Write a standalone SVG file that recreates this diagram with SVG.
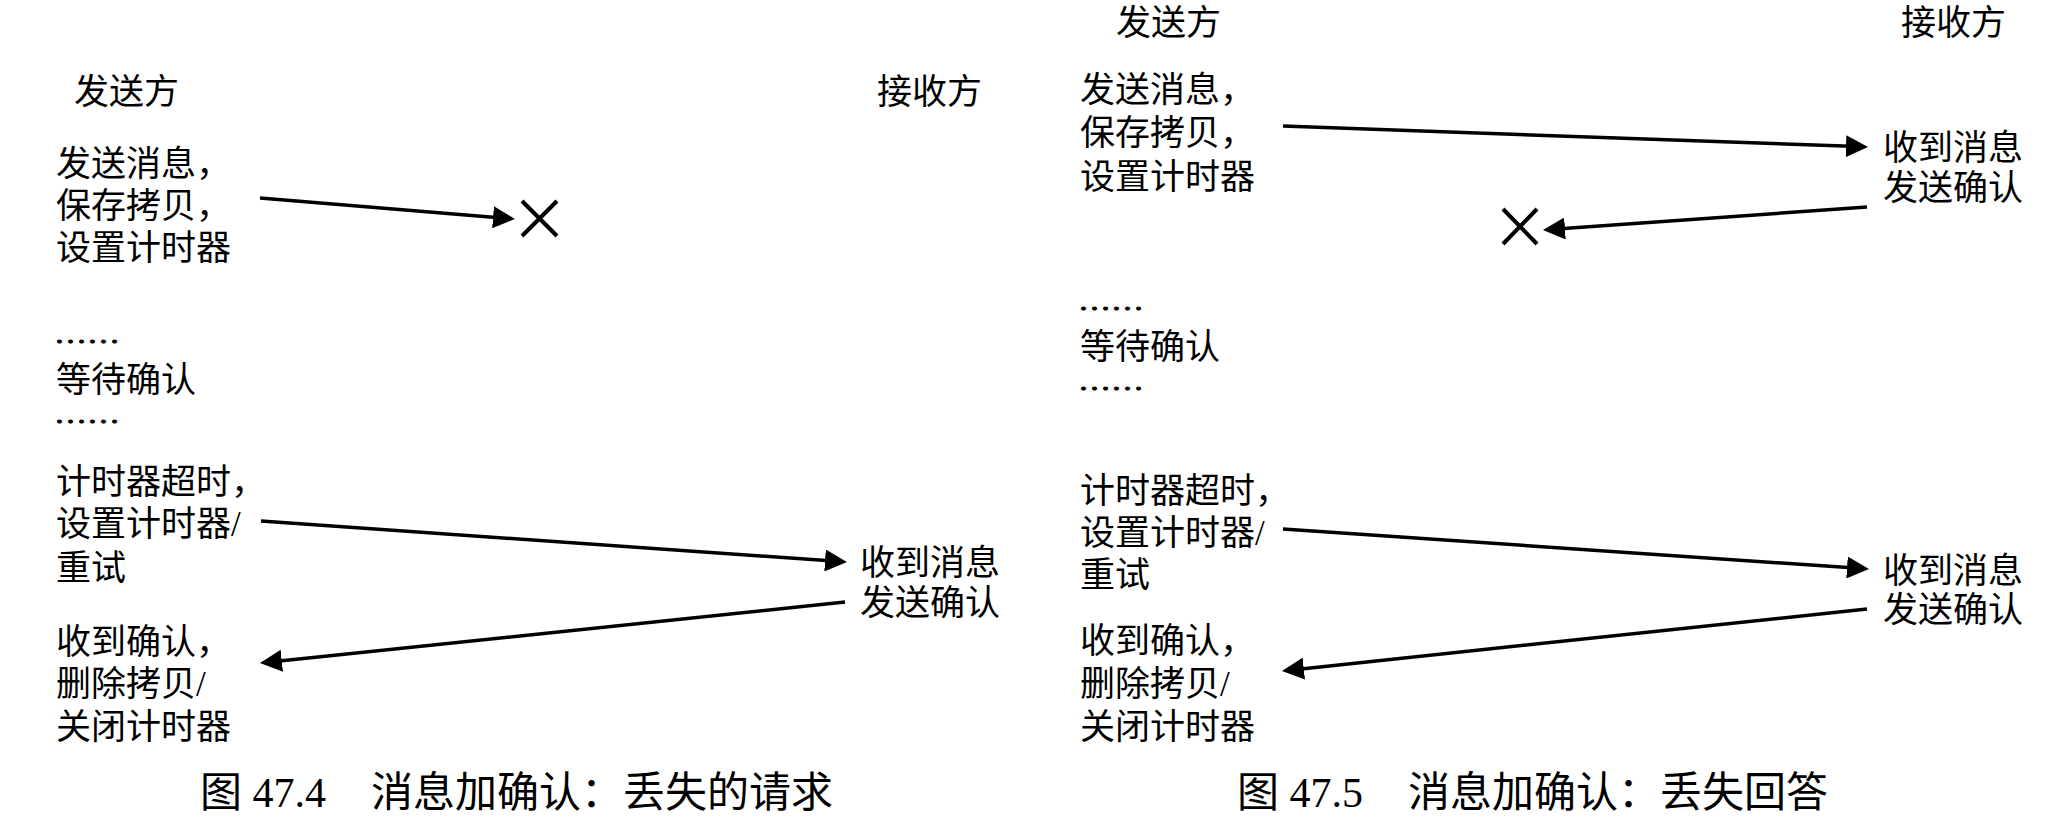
<svg xmlns="http://www.w3.org/2000/svg" width="2065" height="828" viewBox="0 0 2065 828">
<style>
text{font-family:"Liberation Serif","Noto Sans CJK SC",serif;fill:#000;}
.t{font-size:35px;}
.dots{font-size:26px;stroke:#000;stroke-width:0.9;}
.cap{font-size:42px;}
.arr{stroke:#000;stroke-width:3.5;fill:none;marker-end:url(#ah);}
.x{stroke:#000;stroke-width:4;fill:none;}
</style>
<defs>
<marker id="ah" markerUnits="userSpaceOnUse" markerWidth="22" markerHeight="22" refX="12" refY="11" orient="auto" viewBox="0 0 22 22">
<path d="M0,0 L22,11 L0,22 Z" fill="#000"/>
</marker>
</defs>
<rect width="2065" height="828" fill="#fff"/>

<!-- Left panel: Figure 47.4 -->
<g id="l-sender-title"><text class="t" x="74" y="104">发送方</text></g>
<g id="l-receiver-title"><text class="t" x="877" y="104">接收方</text></g>
<g id="l-send"><text class="t" x="56" y="176">发送消息，</text><text class="t" x="56" y="218">保存拷贝，</text><text class="t" x="56" y="260">设置计时器</text></g>
<g id="l-lost"><line class="x" x1="522" y1="201" x2="557" y2="236"/><line class="x" x1="522" y1="236" x2="557" y2="201"/></g>
<g id="l-wait"><text class="dots" transform="translate(54,343) scale(1.27,1)">……</text><text class="t" x="56" y="392">等待确认</text><text class="dots" transform="translate(54,423) scale(1.27,1)">……</text></g>
<g id="l-retry"><text class="t" x="56" y="494">计时器超时，</text><text class="t" x="56" y="536">设置计时器/</text><text class="t" x="56" y="580">重试</text></g>
<g id="l-recv"><text class="t" x="860" y="575">收到消息</text><text class="t" x="860" y="615">发送确认</text></g>
<g id="l-ack"><text class="t" x="56" y="654">收到确认，</text><text class="t" x="56" y="696">删除拷贝/</text><text class="t" x="56" y="739">关闭计时器</text></g>
<g id="l-caption"><text class="cap" y="807"><tspan x="200">图 47.4</tspan><tspan x="371">消息加确认：丢失的请求</tspan></text></g>

<!-- Right panel: Figure 47.5 -->
<g id="r-sender-title"><text class="t" x="1116" y="35">发送方</text></g>
<g id="r-receiver-title"><text class="t" x="1901" y="35">接收方</text></g>
<g id="r-send"><text class="t" x="1080" y="102">发送消息，</text><text class="t" x="1080" y="145">保存拷贝，</text><text class="t" x="1080" y="189">设置计时器</text></g>
<g id="r-recv1"><text class="t" x="1883" y="160">收到消息</text><text class="t" x="1883" y="200">发送确认</text></g>
<g id="r-lost"><line class="x" x1="1503" y1="209" x2="1537" y2="244"/><line class="x" x1="1503" y1="244" x2="1537" y2="209"/></g>
<g id="r-wait"><text class="dots" transform="translate(1078,310) scale(1.27,1)">……</text><text class="t" x="1080" y="359">等待确认</text><text class="dots" transform="translate(1078,390) scale(1.27,1)">……</text></g>
<g id="r-retry"><text class="t" x="1080" y="503">计时器超时，</text><text class="t" x="1080" y="545">设置计时器/</text><text class="t" x="1080" y="587">重试</text></g>
<g id="r-recv2"><text class="t" x="1883" y="583">收到消息</text><text class="t" x="1883" y="622">发送确认</text></g>
<g id="r-ack"><text class="t" x="1080" y="653">收到确认，</text><text class="t" x="1080" y="696">删除拷贝/</text><text class="t" x="1080" y="739">关闭计时器</text></g>
<g id="r-caption"><text class="cap" y="807"><tspan x="1237">图 47.5</tspan><tspan x="1408">消息加确认：丢失回答</tspan></text></g>

<g id="connectors">
<line class="arr" x1="260" y1="198" x2="505" y2="218.2"/>
<line class="arr" x1="261" y1="521" x2="837" y2="561.3"/>
<line class="arr" x1="845" y1="602" x2="269.9" y2="662"/>
<line class="arr" x1="1283" y1="126" x2="1858" y2="146.6"/>
<line class="arr" x1="1867" y1="207" x2="1553" y2="229.3"/>
<line class="arr" x1="1283" y1="529" x2="1859" y2="568.3"/>
<line class="arr" x1="1867" y1="609" x2="1291.9" y2="669.9"/>
</g>
</svg>
